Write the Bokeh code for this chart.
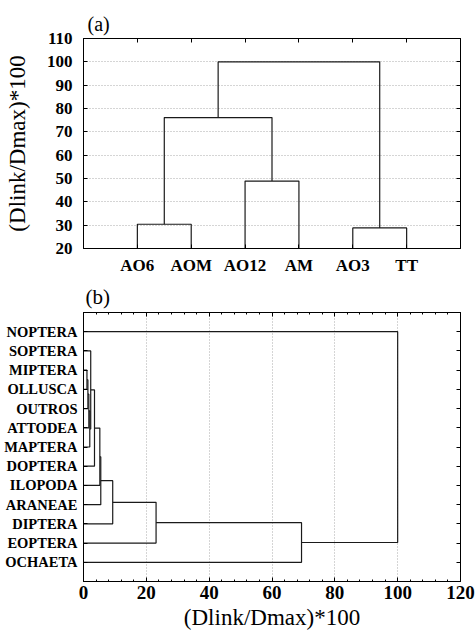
from bokeh.plotting import figure
from bokeh.models import Range1d, LinearAxis, FixedTicker, SingleIntervalTicker
from bokeh.layouts import column
from bokeh.embed import file_html
from bokeh.resources import INLINE

# ---------------- data: panel (a) ----------------
a_labels = ["AO6", "AOM", "AO12", "AM", "AO3", "TT"]
a_merge_left = [0, 2, 4, 6, 9]
a_merge_right = [1, 3, 5, 7, 8]
a_merge_height = [30.4, 48.9, 28.8, 76.1, 100.0]
a_yticks = [20, 30, 40, 50, 60, 70, 80, 90, 100, 110]

# ---------------- data: panel (b) ----------------
# leaf labels as visible in the (left-cropped) figure, top to bottom
b_labels = ["NOPTERA", "SOPTERA", "MIPTERA", "OLLUSCA", "OUTROS",
            "ATTODEA", "MAPTERA", "DOPTERA", "ILOPODA", "ARANEAE",
            "DIPTERA", "EOPTERA", "OCHAETA"]
b_merge_left = [2, 13, 14, 15, 1, 17, 18, 19, 20, 21, 22, 0]
b_merge_right = [3, 4, 5, 6, 16, 7, 8, 9, 10, 11, 12, 23]
b_merge_height = [1.1, 1.4, 1.7, 2.0, 2.3, 3.5, 5.2, 5.5, 9.3, 23.1, 69.4, 100.0]

AXIS_TITLE = "(Dlink/Dmax)*100"
SERIF = "Liberation Serif"
LINE = "#1a1a1a"


def dendro(n, left, right, height):
    pos = {i: i + 1.0 for i in range(n)}
    hgt = {i: 0.0 for i in range(n)}
    along, level = [], []
    for k, (a, b, h) in enumerate(zip(left, right, height)):
        pa, pb = pos[a], pos[b]
        along.append([pa, pa, pb, pb])
        level.append([hgt[a], h, h, hgt[b]])
        pos[n + k] = (pa + pb) / 2.0
        hgt[n + k] = h
    return along, level


def style_axis(ax, labels=True, size="17px"):
    ax.axis_line_color = "black"
    ax.major_tick_line_color = "black"
    ax.minor_tick_line_color = "black"
    ax.major_tick_in = 4
    ax.major_tick_out = 0
    ax.minor_tick_in = 2
    ax.minor_tick_out = 0
    ax.major_label_text_font = SERIF
    ax.major_label_text_font_style = "bold"
    if labels:
        ax.major_label_text_color = "black"
        ax.major_label_text_font_size = size
    else:
        ax.major_label_text_color = None
        ax.major_label_text_font_size = "1px"
        ax.major_label_standoff = 0


def style_title(p, text, size):
    p.title.text = text
    p.title.text_font = SERIF
    p.title.text_font_size = size
    p.title.text_font_style = "normal"
    p.title.text_color = "black"
    p.title.align = "left"


# ================= panel (a) =================
p1 = figure(width=475, height=277, x_range=Range1d(0, 7), y_range=Range1d(20, 110),
            output_backend="svg", toolbar_location=None,
            min_border_left=82, min_border_right=14, min_border_top=38, min_border_bottom=28)
p1.outline_line_color = "black"
p1.outline_line_width = 1
p1.background_fill_color = "white"
p1.border_fill_color = "white"
p1.xgrid.visible = False
p1.ygrid.grid_line_color = "#aaaaaa"
p1.ygrid.grid_line_dash = "1 2"
p1.ygrid.ticker = FixedTicker(ticks=a_yticks)
style_title(p1, "(a)", "20px")
p1.title.offset = 4
p1.title.standoff = 7

a_ticks = list(range(1, len(a_labels) + 1))
p1.xaxis.ticker = FixedTicker(ticks=a_ticks)
p1.xaxis.major_label_overrides = {t: lab for t, lab in zip(a_ticks, a_labels)}
style_axis(p1.xaxis[0], size="17px")
p1.xaxis.major_label_standoff = 7
p1.xaxis.minor_tick_line_color = None

p1.yaxis.ticker = FixedTicker(ticks=a_yticks)
style_axis(p1.yaxis[0], size="17px")
p1.yaxis.major_label_standoff = 11
p1.yaxis.axis_label = AXIS_TITLE
p1.yaxis.axis_label_text_font = SERIF
p1.yaxis.axis_label_text_font_style = "normal"
p1.yaxis.axis_label_text_font_size = "23px"
p1.yaxis.axis_label_text_color = "black"
p1.yaxis.axis_label_standoff = 14

top1 = LinearAxis(ticker=FixedTicker(ticks=a_ticks))
style_axis(top1, labels=False)
p1.add_layout(top1, "above")
right1 = LinearAxis(ticker=FixedTicker(ticks=a_yticks))
style_axis(right1, labels=False)
p1.add_layout(right1, "right")

a_along, a_level = dendro(len(a_labels), a_merge_left, a_merge_right, a_merge_height)
p1.multi_line(xs=a_along, ys=a_level, line_color=LINE, line_width=1.2)

# ================= panel (b) =================
n_b = len(b_labels)
p2 = figure(width=475, height=356, x_range=Range1d(0, 120), y_range=Range1d(n_b + 1, 0),
            output_backend="svg", toolbar_location=None,
            min_border_left=83, min_border_right=15, min_border_top=35, min_border_bottom=52)
p2.outline_line_color = "black"
p2.outline_line_width = 1
p2.background_fill_color = "white"
p2.border_fill_color = "white"
p2.ygrid.visible = False
p2.xgrid.grid_line_color = "#aaaaaa"
p2.xgrid.grid_line_dash = "1 2"
style_title(p2, "(b)", "21px")
p2.title.offset = 2
p2.title.standoff = 8

p2.xaxis.ticker = SingleIntervalTicker(interval=20, num_minor_ticks=5)
style_axis(p2.xaxis[0], size="19px")
p2.xaxis.major_label_standoff = 4
p2.xaxis.axis_label = AXIS_TITLE
p2.xaxis.axis_label_text_font = SERIF
p2.xaxis.axis_label_text_font_style = "normal"
p2.xaxis.axis_label_text_font_size = "23px"
p2.xaxis.axis_label_text_color = "black"
p2.xaxis.axis_label_standoff = 3

b_ticks = list(range(1, n_b + 1))
p2.yaxis.ticker = FixedTicker(ticks=b_ticks)
p2.yaxis.major_label_overrides = {t: lab for t, lab in zip(b_ticks, b_labels)}
style_axis(p2.yaxis[0], size="14.5px")
p2.yaxis.major_label_standoff = 6
p2.yaxis.minor_tick_line_color = None

top2 = LinearAxis(ticker=SingleIntervalTicker(interval=20, num_minor_ticks=5))
style_axis(top2, labels=False)
p2.add_layout(top2, "above")
right2 = LinearAxis(ticker=FixedTicker(ticks=b_ticks))
style_axis(right2, labels=False)
right2.minor_tick_line_color = None
p2.add_layout(right2, "right")

b_along, b_level = dendro(n_b, b_merge_left, b_merge_right, b_merge_height)
p2.multi_line(xs=b_level, ys=b_along, line_color=LINE, line_width=1.2)

layout = column(p1, p2)
open("out.html", "w").write(file_html(layout, INLINE))
